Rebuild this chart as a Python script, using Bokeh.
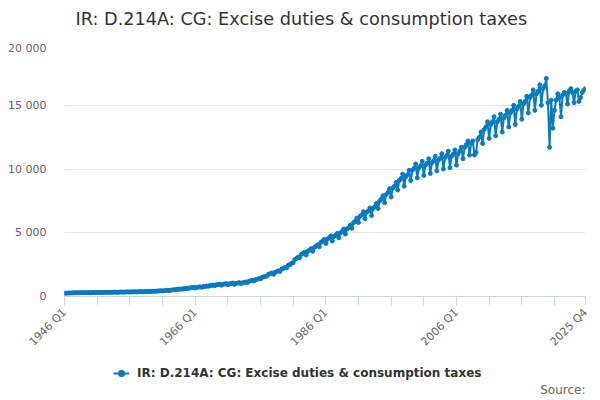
from math import pi

from bokeh.plotting import figure
from bokeh.layouts import column
from bokeh.embed import file_html
from bokeh.resources import INLINE
from bokeh.models import (ColumnDataSource, FixedTicker, Range1d, Legend,
                          LegendItem, Label)

title = "IR: D.214A: CG: Excise duties & consumption taxes"
series_name = "IR: D.214A: CG: Excise duties & consumption taxes"
source_note = "Source:"

first_year = 1946
last_year = 2025

# quarterly values, one row per year (Q1..Q4)
excise = [
    250, 265, 270, 280,
    275, 285, 290, 300,
    290, 300, 300, 310,
    295, 305, 305, 315,
    300, 310, 310, 320,
    305, 320, 320, 330,
    310, 325, 325, 335,
    315, 330, 335, 345,
    325, 340, 345, 355,
    335, 350, 355, 365,
    345, 360, 365, 375,
    355, 375, 380, 390,
    365, 385, 390, 400,
    380, 400, 405, 420,
    405, 430, 435, 450,
    430, 460, 465, 485,
    465, 500, 505, 530,
    520, 560, 565, 590,
    575, 620, 625, 655,
    630, 680, 690, 715,
    670, 720, 730, 760,
    720, 780, 790, 820,
    800, 860, 870, 900,
    850, 920, 930, 970,
    890, 960, 970, 1010,
    930, 1000, 1010, 1060,
    950, 1030, 1050, 1090,
    1000, 1080, 1100, 1140,
    1100, 1200, 1230, 1280,
    1210, 1320, 1350, 1400,
    1380, 1500, 1540, 1580,
    1600, 1750, 1790, 1850,
    1740, 1900, 1950, 2010,
    1970, 2150, 2200, 2280,
    2250, 2450, 2500, 2600,
    2650, 2900, 2980, 3080,
    3050, 3300, 3380, 3480,
    3250, 3550, 3640, 3750,
    3550, 3850, 3950, 4050,
    3900, 4250, 4350, 4480,
    4150, 4500, 4600, 4750,
    4350, 4700, 4800, 4950,
    4600, 5000, 5100, 5300,
    4900, 5300, 5400, 5600,
    5350, 5800, 5900, 6150,
    5800, 6300, 6400, 6650,
    6100, 6600, 6700, 6950,
    6350, 6900, 7050, 7300,
    6900, 7500, 7650, 7900,
    7350, 8000, 8150, 8450,
    7800, 8500, 8650, 8950,
    8350, 9100, 9250, 9600,
    8650, 9400, 9550, 9900,
    9100, 9900, 10050, 10400,
    9300, 10100, 10250, 10600,
    9500, 10300, 10450, 10800,
    9650, 10500, 10650, 11000,
    9850, 10700, 10850, 11200,
    10000, 10900, 11050, 11400,
    10100, 11000, 11150, 11500,
    10300, 11200, 11400, 11700,
    10800, 11700, 11900, 12200,
    11100, 12000, 12200, 11100,
    11300, 12300, 12500, 12900,
    12000, 13100, 13300, 13700,
    12400, 13500, 13700, 14100,
    12600, 13700, 13900, 14300,
    12900, 14000, 14200, 14600,
    13300, 14400, 14600, 15000,
    13500, 14700, 14900, 15300,
    13900, 15100, 15300, 15700,
    14400, 15600, 15800, 16200,
    14600, 15900, 16100, 16600,
    15000, 16300, 16500, 17100,
    15200, 11700, 15400, 13200,
    14600, 15400, 15900, 15600,
    14100, 15800, 16000, 15900,
    15100, 16100, 16300, 16000,
    15200, 16100, 16200, 15300,
    15600, 16000, 16200, 16300,
]

quarters = [f"{y} Q{q}" for y in range(first_year, last_year + 1) for q in range(1, 5)]

x_ticks = [0, 20, 40, 60, 80, 100, 120, 140, 160, 180, 200, 220, 240, 260, 280, 300, 319]
x_labelled = [0, 80, 160, 240, 319]
y_ticks = [0, 5000, 10000, 15000, 20000]
y_tick_labels = ["0", "5 000", "10 000", "15 000", "20 000"]

blue = "#0a7bc1"
font = "DejaVu Sans"


def strip(height):
    # an empty figure used as a text band; its frame lines up with the chart's
    s = figure(
        width=592,
        height=height,
        output_backend="svg",
        toolbar_location=None,
        tools="",
        x_range=Range1d(0, 1),
        y_range=Range1d(0, 1),
        x_axis_location=None,
        y_axis_location=None,
        min_border=0,
    )
    s.outline_line_color = None
    s.grid.visible = False
    return s


# title band
t = strip(41)
t.add_layout(Label(
    x=11, y=23, x_units="screen", y_units="screen", text=title,
    text_align="left", text_baseline="middle", text_font=font,
    text_font_size="17.7px", text_color="#333333",
))

src = ColumnDataSource(dict(x=list(range(len(excise))), y=excise, q=quarters))

p = figure(
    width=592,
    height=315,
    output_backend="svg",
    toolbar_location=None,
    tools="",
    title_location=None,
    x_range=Range1d(0, len(excise) - 1),
    y_range=Range1d(0, 20000),
    min_border_left=64,
    min_border_right=7,
    min_border_top=0,
    min_border_bottom=59,
)
p.outline_line_color = None

p.line("x", "y", source=src, color=blue, line_width=2)
p.scatter("x", "y", source=src, size=4, color=blue)

# x axis
xa = p.xaxis[0]
xa.ticker = FixedTicker(ticks=x_ticks)
xa.major_label_overrides = {t: (quarters[t] if t in x_labelled else "") for t in x_ticks}
xa.major_label_orientation = pi / 4
xa.axis_line_color = "#ccd6eb"
xa.major_tick_line_color = "#ccd6eb"
xa.major_tick_out = 9
xa.major_tick_in = 0
xa.minor_tick_line_color = None
xa.major_label_text_font = font
xa.major_label_text_font_size = "11px"
xa.major_label_text_color = "#666666"
xa.major_label_standoff = 5
p.xgrid.grid_line_color = None

# y axis
ya = p.yaxis[0]
ya.ticker = FixedTicker(ticks=y_ticks)
ya.major_label_overrides = dict(zip(y_ticks, y_tick_labels))
ya.axis_line_color = None
ya.major_tick_line_color = None
ya.major_tick_out = 0
ya.major_tick_in = 0
ya.minor_tick_line_color = None
ya.major_label_text_font = font
ya.major_label_text_font_size = "11px"
ya.major_label_text_color = "#666666"
ya.major_label_standoff = 18
p.ygrid.ticker = FixedTicker(ticks=y_ticks)
p.ygrid.grid_line_color = "#e6e6e6"

# legend band below the chart
q = strip(42)
key_line = q.line([-2, -1], [-2, -1], color=blue, line_width=2)
key_dot = q.scatter([-2], [-2], size=4, color=blue)

legend = Legend(
    items=[LegendItem(label=series_name, renderers=[key_line, key_dot])],
    location=(49, 15),
    orientation="horizontal",
    label_text_font=font,
    label_text_font_size="12px",
    label_text_font_style="bold",
    label_text_color="#333333",
    border_line_color=None,
    background_fill_alpha=0,
    glyph_width=16,
    glyph_height=20,
    label_standoff=8,
    margin=0,
    padding=0,
)
q.add_layout(legend, "center")

q.add_layout(Label(
    x=521, y=2, x_units="screen", y_units="screen", text=source_note,
    text_align="right", text_baseline="bottom", text_font=font,
    text_font_size="12px", text_color="#666666",
))

open("out.html", "w").write(file_html(column(t, p, q), INLINE))
